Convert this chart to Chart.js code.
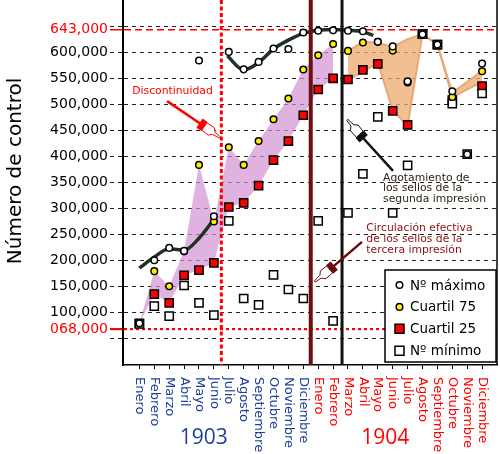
<!DOCTYPE html>
<html>
<head>
<meta charset="utf-8">
<script src="https://cdn.jsdelivr.net/npm/chart.js@4.4.1/dist/chart.umd.min.js"></script>
<style>
  html, body { margin: 0; padding: 0; background: #fff; }
  #wrap { width: 500px; height: 454px; }
</style>
</head>
<body>
<div id="wrap"><canvas id="chart"></canvas></div>
<script>
// Meses de enero 1903 a diciembre 1904 (índice 0..23)
const months = ["Enero", "Febrero", "Marzo", "Abril", "Mayo", "Junio", "Julio", "Agosto",
  "Septiembre", "Octubre", "Noviembre", "Diciembre",
  "Enero", "Febrero", "Marzo", "Abril", "Mayo", "Junio", "Julio", "Agosto",
  "Septiembre", "Octubre", "Noviembre", "Diciembre"];
const years = ["1903", "1904"];

// Series
const maxNum = [80000, 201000, 224600, 218800, 584000, 285400, 600500, 567000, 581300, 607000, 606000, 637600,
  641000, 642000, 641000, 640000, 620000, 611000, 544000, 634400, 614500, 525000, 404300, 578000];
const q75 = [80000, 180000, 151000, 218000, 383800, 275200, 417700, 383800, 429500, 471400, 511000, 566800,
  594000, 615500, 602400, 618500, 620000, 603000, 542000, 634400, 614500, 514000, null, 563400];
const q25 = [80000, 135800, 119000, 172000, 181800, 195800, 303000, 310900, 344000, 392800, 429500, 479000,
  528400, 549500, 547500, 566000, 577500, 487300, 460500, 634400, 614500, 508000, null, 534700];
const minNum = [79000, 113000, 93600, 152500, 119000, 95500, 276400, 127500, 115300, 172800, 144800, 127500,
  276400, 84600, 291700, 366500, 475800, 291700, 383000, 634400, 614500, 501000, 404300, 520700];

// Bandas sombreadas (rosa hasta feb. 1904, naranja después)
const bandHigh = [80000, 180000, 151000, 218000, 384000, 275000, 418000, 384000, 430000, 471000, 511000, 567000,
  594000, 615000, 602000, 620000, 618000, 610000, 625000, 634400, 614500, 522000, null, 564000];
const bandLow = [80000, 136000, 119000, 172000, 182000, 196000, 303000, 311000, 344000, 393000, 429000, 479000,
  528000, 549500, 547500, 562000, 580000, 488000, 459000, 634400, 614500, 514000, null, 543000];
const pinkEnd = 13;

// Curvas de tendencia del máximo
const trendAX = [0, 1, 2, 3, 4, 5.2];
const trendAY = [186000, 207000, 223000, 220000, 243000, 287000];
const trendBX = [5.9, 7, 8, 9, 10, 11, 12, 13, 14, 15, 15.7];
const trendBY = [593000, 566000, 580000, 606000, 623000, 636000, 642000, 643500, 642000, 639000, 632000];

// Ejes
const yTicks = [50000, 100000, 150000, 200000, 250000, 300000, 350000, 400000, 450000, 500000, 550000, 600000, 650000];
const redTicks = [68000, 643000];
const blankTicks = [50000, 650000];

// Líneas verticales (posición en meses)
const discontinuity = 5.5;
const thirdPrint = 11.5;
const secondPrintEnd = 13.6;

const pts = (arr, keep) => arr.map((v, i) => ({ x: i, y: v }))
  .filter((p, i) => p.y !== null && (!keep || keep(i)));
const line = (xs, ys) => xs.map((x, i) => ({ x: x, y: ys[i] }));

const fmt = v => {
  const s = String(v).padStart(6, "0");
  return s.slice(0, 3) + "," + s.slice(3);
};

function drawPointer(ctx, sx, sy, tx, ty, color) {
  const len = Math.hypot(tx - sx, ty - sy);
  const dx = (tx - sx) / len, dy = (ty - sy) / len;
  const nx = -dy, ny = dx;
  const at = (d, n) => [tx - dx * d + nx * n, ty - dy * d + ny * n];
  const poly = list => {
    ctx.beginPath();
    list.forEach(([d, n], i) => i ? ctx.lineTo(...at(d, n)) : ctx.moveTo(...at(d, n)));
    ctx.closePath();
  };
  ctx.save();
  ctx.strokeStyle = color;
  ctx.lineWidth = 2.5;
  ctx.beginPath();
  ctx.moveTo(sx, sy);
  ctx.lineTo(...at(22, 0));
  ctx.stroke();
  // puño
  ctx.fillStyle = color;
  poly([[25, 5.5], [19, 5.5], [19, -5.5], [25, -5.5]]);
  ctx.fill();
  // mano
  ctx.fillStyle = "#fff";
  ctx.lineWidth = 1;
  poly([[19, 4.5], [11, 5], [8, 2], [0, 1.2], [0, -0.3], [7, -1], [10, -4.5], [19, -4.5]]);
  ctx.fill();
  ctx.stroke();
  ctx.restore();
}

const decor = {
  id: "decor",
  afterDatasetsDraw(chart) {
    const { ctx, chartArea: a, scales: { x } } = chart;
    ctx.save();
    const vline = (v, color, w, dash) => {
      const xx = x.getPixelForValue(v);
      ctx.strokeStyle = color;
      ctx.lineWidth = w;
      ctx.setLineDash(dash);
      ctx.beginPath();
      ctx.moveTo(xx, a.top);
      ctx.lineTo(xx, a.bottom);
      ctx.stroke();
    };
    vline(discontinuity, "#ff0000", 3, [4, 2.5]);
    vline(thirdPrint, "#6e0e0e", 4, []);
    vline(secondPrintEnd, "#111", 3, []);
    ctx.restore();
  },
  afterDraw(chart) {
    const { ctx, chartArea: a, scales: { x, y } } = chart;
    ctx.save();

    // marco derecho
    ctx.strokeStyle = "#000";
    ctx.lineWidth = 1.5;
    ctx.beginPath();
    ctx.moveTo(a.right, a.top);
    ctx.lineTo(a.right, a.bottom);
    ctx.stroke();

    // título del eje Y
    ctx.save();
    ctx.translate(16, 171);
    ctx.rotate(-Math.PI / 2);
    ctx.font = "20px 'DejaVu Sans'";
    ctx.fillStyle = "#000";
    ctx.textAlign = "center";
    ctx.textBaseline = "middle";
    ctx.fillText("Número de control", 0, 0);
    ctx.restore();

    // etiquetas de los meses (verticales)
    ctx.font = "13px 'DejaVu Sans'";
    ctx.textAlign = "left";
    ctx.textBaseline = "middle";
    months.forEach((m, i) => {
      ctx.save();
      ctx.translate(x.getPixelForValue(i), a.bottom + 12);
      ctx.rotate(Math.PI / 2);
      ctx.fillStyle = i < 12 ? "#1f3f99" : "#ff0000";
      ctx.fillText(m, 0, 0);
      ctx.restore();
    });

    // años
    ctx.font = "21px 'Open Sans'";
    ctx.textAlign = "center";
    ctx.fillStyle = "#1f3f99";
    ctx.fillText(years[0], x.getPixelForValue(4.32), a.bottom + 73);
    ctx.fillStyle = "#ff0000";
    ctx.fillText(years[1], x.getPixelForValue(16.5), a.bottom + 73);

    // anotaciones
    ctx.font = "10.8px 'DejaVu Sans'";
    ctx.fillStyle = "#ff0000";
    ctx.fillText("Discontinuidad", x.getPixelForValue(2.22), y.getPixelForValue(525000));
    drawPointer(ctx, x.getPixelForValue(1.86), y.getPixelForValue(506000),
      x.getPixelForValue(5.42), y.getPixelForValue(437000), "#ff0000");

    ctx.textAlign = "left";
    ctx.fillStyle = "#2e2614";
    ["Agotamiento de", "los sellos de la", "segunda impresión"].forEach((t, i) =>
      ctx.fillText(t, x.getPixelForValue(16.35), y.getPixelForValue(358800) + i * 10.7));
    drawPointer(ctx, x.getPixelForValue(17.02), y.getPixelForValue(372200),
      x.getPixelForValue(13.93), y.getPixelForValue(469500), "#111");

    ctx.fillStyle = "#8b1010";
    ["Circulación efectiva", "de los sellos de la", "tercera impresión"].forEach((t, i) =>
      ctx.fillText(t, x.getPixelForValue(15.23), y.getPixelForValue(262900) + i * 11.3));
    drawPointer(ctx, x.getPixelForValue(14.94), y.getPixelForValue(236100),
      x.getPixelForValue(11.8), y.getPixelForValue(159400), "#6b0a0a");

    // leyenda
    const bx = a.right - 112, by = a.bottom - 95, bw = 111, bh = 92;
    ctx.fillStyle = "#fff";
    ctx.fillRect(bx, by, bw, bh);
    ctx.strokeStyle = "#000";
    ctx.lineWidth = 1.5;
    ctx.strokeRect(bx, by, bw, bh);
    const items = chart.data.datasets.filter(d => d.legendRow !== undefined)
      .sort((p, q) => p.legendRow - q.legendRow);
    ctx.font = "13.5px 'DejaVu Sans'";
    ctx.textBaseline = "middle";
    items.forEach((d, i) => {
      const cy = by + 15 + i * 21.9, cx = bx + 14.5;
      ctx.fillStyle = d.pointBackgroundColor;
      ctx.strokeStyle = "#000";
      ctx.lineWidth = 1.5;
      ctx.beginPath();
      if (d.pointStyle === "rect") ctx.rect(cx - 4.5, cy - 4.5, 9, 9);
      else ctx.arc(cx, cy, 3.3, 0, Math.PI * 2);
      ctx.fill();
      ctx.stroke();
      ctx.fillStyle = "#000";
      ctx.fillText(d.label, bx + 25, cy + 1);
    });
    ctx.restore();
  }
};

const isPink = i => i <= pinkEnd;
const isOrange = i => i > pinkEnd;
const band = (data, color, fill, border) => ({
  type: "line", data: data, order: 20, fill: fill,
  backgroundColor: color, borderColor: border || "rgba(0,0,0,0)", borderWidth: border ? 2 : 1,
  pointRadius: 0, tension: 0
});
const trend = data => ({
  type: "line", data: data, order: 10, fill: false,
  borderColor: "#1e3320", borderWidth: 3.5, pointRadius: 0, cubicInterpolationMode: "monotone"
});
const marks = (label, data, style, r, color, order, row) => ({
  type: "scatter", label: label, data: data, order: order, legendRow: row,
  pointStyle: style, pointRadius: r, pointBackgroundColor: color,
  pointBorderColor: "#000", pointBorderWidth: 1.5
});

new Chart(document.getElementById("chart"), {
  data: {
    datasets: [
      band(pts(bandLow, isPink), "rgba(210,145,210,0.7)", false),
      band(pts(bandHigh, isPink), "rgba(210,145,210,0.7)", "-1"),
      band(pts(bandLow, isOrange), "rgba(238,170,110,0.75)", false, "#eaa878"),
      band(pts(bandHigh, isOrange), "rgba(238,170,110,0.75)", "-1", "#eaa878"),
      trend(line(trendAX, trendAY)),
      trend(line(trendBX, trendBY)),
      marks("Cuartil 25", pts(q25), "rect", 5.8, "#ff0000", 4, 2),
      marks("Nº mínimo", pts(minNum), "rect", 5.8, "#ffffff", 3, 3),
      marks("Cuartil 75", pts(q75), "circle", 3.3, "#ffee00", 2, 1),
      marks("Nº máximo", pts(maxNum), "circle", 3.3, "#ffffff", 1, 0)
    ]
  },
  options: {
    responsive: true,
    maintainAspectRatio: false,
    animation: false,
    events: [],
    layout: { autoPadding: false, padding: { left: 0, right: 3, top: 0, bottom: 0 } },
    plugins: { legend: { display: false }, tooltip: { enabled: false } },
    scales: {
      x: {
        type: "linear", min: -1.1, max: 24,
        afterBuildTicks: s => { s.ticks = months.map((m, i) => ({ value: i })); },
        afterFit: s => { s.height = 89; s.paddingLeft = 0; s.paddingRight = 0; },
        ticks: { display: false },
        grid: { drawOnChartArea: false, drawTicks: true, tickLength: 4, color: "#000", tickWidth: 1 },
        border: { display: true, color: "#000", width: 1.5 }
      },
      y: {
        min: 0, max: 700000,
        afterBuildTicks: s => {
          s.ticks = yTicks.concat(redTicks).sort((p, q) => p - q).map(v => ({ value: v }));
        },
        afterFit: s => { s.width = 123; s.paddingTop = 0; s.paddingBottom = 0; },
        ticks: {
          autoSkip: false,
          padding: 2,
          font: { family: "DejaVu Sans", size: 14 },
          color: c => redTicks.includes(c.tick.value) ? "#ff0000" : "#000",
          callback: v => blankTicks.includes(v) ? "" : fmt(v)
        },
        grid: {
          tickLength: 13,
          color: c => c.tick && redTicks.includes(c.tick.value) ? "#ff0000" : "#222",
          lineWidth: c => c.tick && c.tick.value === 68000 ? 2.2 : (c.tick && c.tick.value === 643000 ? 1.5 : 1),
          tickColor: c => c.tick && redTicks.includes(c.tick.value) ? "#ff0000" : "#222",
          tickBorderDash: c => c.tick && redTicks.includes(c.tick.value) ? [] : [4, 4]
        },
        border: {
          display: true, color: "#000", width: 2,
          dash: c => !c.tick ? [] : (c.tick.value === 643000 ? [7, 4] : (c.tick.value === 68000 ? [3, 3] : [4, 4]))
        }
      }
    }
  },
  plugins: [decor]
});
</script>
</body>
</html>
